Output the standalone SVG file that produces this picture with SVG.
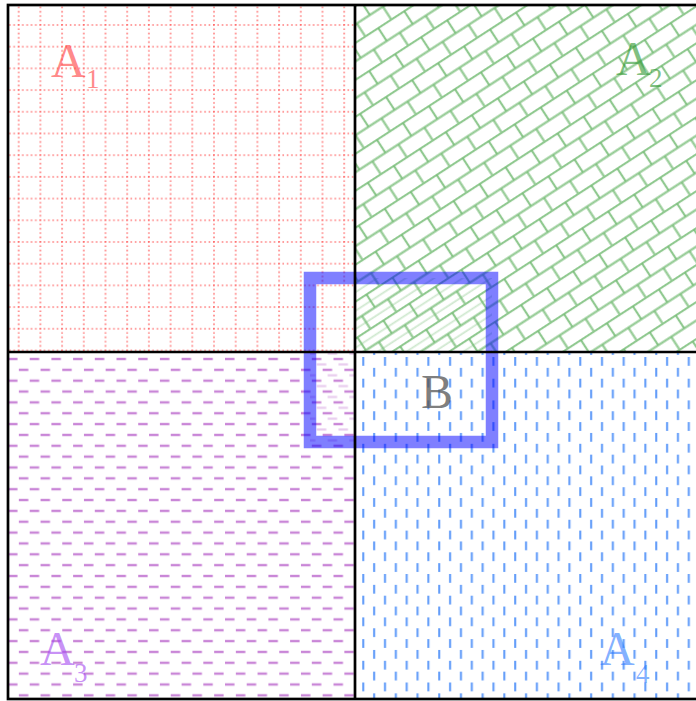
<svg xmlns="http://www.w3.org/2000/svg" width="696" height="701" viewBox="0 0 696 701">
<defs>
<style>
.lbl{font-family:"Liberation Serif","Times New Roman",serif;}
.frame{stroke:#000;stroke-width:2.7;fill:none;}
</style>
<pattern id="pGrid" patternUnits="userSpaceOnUse" x="17.7" y="24" width="21.7" height="21.7">
<g stroke="#ff5050" stroke-opacity="0.75" stroke-width="1.6" stroke-dasharray="1.6 2.74">
<line x1="1" y1="0" x2="1" y2="21.7"/>
<line x1="0" y1="1" x2="21.7" y2="1"/>
</g>
</pattern>
<pattern id="pBrick" patternUnits="userSpaceOnUse" x="0" y="0" width="31" height="31" patternTransform="translate(355 5) rotate(-33)">
<g stroke="#74bc74" stroke-opacity="0.8" stroke-width="2.2" fill="none">
<line x1="0" y1="1" x2="31" y2="1"/>
<line x1="0" y1="16.5" x2="31" y2="16.5"/>
<line x1="7" y1="1" x2="7" y2="16.5"/>
<line x1="22.5" y1="16.5" x2="22.5" y2="32"/>
</g>
</pattern>
<pattern id="pBrick2" patternUnits="userSpaceOnUse" x="0" y="0" width="31" height="31" patternTransform="translate(355 5) rotate(-33)">
<g stroke="#74bc74" stroke-opacity="0.35" stroke-width="1.8" fill="none">
<line x1="0" y1="8.7" x2="31" y2="8.7"/>
<line x1="0" y1="24.2" x2="31" y2="24.2"/>
</g>
</pattern>
<pattern id="pDashH" patternUnits="userSpaceOnUse" x="8" y="357" width="21.7" height="21.7">
<g stroke="#b458c8" stroke-opacity="0.72" stroke-width="2.4">
<line x1="0" y1="2" x2="9.5" y2="2"/>
<line x1="10.85" y1="12.85" x2="20.35" y2="12.85"/>
</g>
</pattern>
<pattern id="pDashH2" patternUnits="userSpaceOnUse" x="8" y="357" width="21.7" height="21.7">
<g stroke="#b458c8" stroke-opacity="0.3" stroke-width="2.2">
<line x1="5" y1="7.4" x2="14.5" y2="7.4"/>
<line x1="15.85" y1="18.3" x2="25.35" y2="18.3"/>
<line x1="-5.85" y1="18.3" x2="3.65" y2="18.3"/>
</g>
</pattern>
<pattern id="pDashV" patternUnits="userSpaceOnUse" x="362.1" y="357" width="21.7" height="21.7">
<g stroke="#2f7cf6" stroke-opacity="0.75" stroke-width="2.1">
<line x1="1.2" y1="0" x2="1.2" y2="8.8"/>
<line x1="12.05" y1="10.85" x2="12.05" y2="19.65"/>
</g>
</pattern>
<clipPath id="cB"><rect x="310" y="278" width="182" height="164"/></clipPath>
</defs>
<rect width="696" height="701" fill="#fff"/>
<g id="A1">
<rect x="8" y="5" width="347" height="347" fill="url(#pGrid)"/>
<text class="lbl" x="51" y="77" font-size="48" fill="#ff3a3a" fill-opacity="0.6">A</text>
<text class="lbl" x="86" y="88" font-size="27" fill="#ff3a3a" fill-opacity="0.6">1</text>
</g>
<g id="A2">
<rect x="355" y="5" width="341" height="347" fill="url(#pBrick)"/>
<text class="lbl" x="616" y="75" font-size="48" fill="#2c962c" fill-opacity="0.6">A</text>
<text class="lbl" x="649" y="87" font-size="27" fill="#2c962c" fill-opacity="0.6">2</text>
</g>
<g id="A3">
<rect x="8" y="352" width="347" height="347" fill="url(#pDashH)"/>
<text class="lbl" x="40" y="665" font-size="48" fill="#a448f0" fill-opacity="0.6">A</text>
<text class="lbl" x="74" y="682" font-size="27" fill="#a448f0" fill-opacity="0.6">3</text>
</g>
<g id="A4">
<rect x="355" y="352" width="341" height="347" fill="url(#pDashV)"/>
<text class="lbl" x="600" y="665" font-size="48" fill="#2f7cff" fill-opacity="0.6">A</text>
<text class="lbl" x="636" y="683" font-size="27" fill="#2f7cff" fill-opacity="0.6">4</text>
</g>
<g id="B">
<g clip-path="url(#cB)">
<rect x="355" y="278" width="137" height="74" fill="url(#pBrick2)"/>
<rect x="310" y="352" width="45" height="90" fill="url(#pDashH2)"/>
</g>
<rect x="310" y="278" width="182" height="164" fill="none" stroke="#0000ff" stroke-opacity="0.5" stroke-width="12.5"/>
<text class="lbl" x="421" y="408" font-size="48" fill="#555" fill-opacity="0.75">B</text>
</g>
<g id="connectors" class="frame">
<rect x="8" y="5" width="690" height="694"/>
<line x1="355" y1="5" x2="355" y2="699"/>
<line x1="8" y1="352" x2="698" y2="352"/>
</g>
</svg>
